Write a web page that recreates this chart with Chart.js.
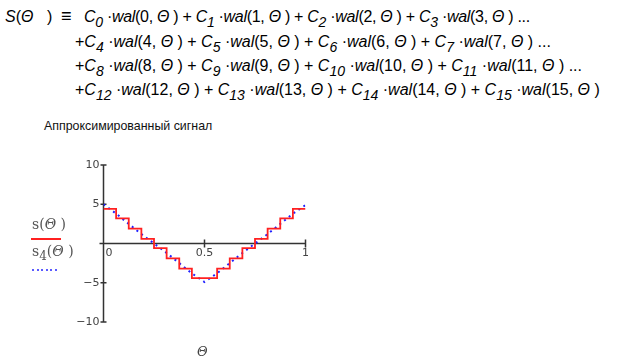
<!DOCTYPE html>
<html>
<head>
<meta charset="utf-8">
<script src="https://cdn.jsdelivr.net/npm/chart.js@4.4.1/dist/chart.umd.min.js"></script>
<style>
  html, body { margin: 0; padding: 0; background: #fff; }
  body { width: 623px; height: 362px; position: relative; overflow: hidden; }
  #plot { position: absolute; left: 0; top: 0; }
  .f { position: absolute; font-family: "Liberation Sans", Arial, sans-serif; font-size: 16px; color: #000; white-space: nowrap; line-height: 18px; }
  .f sub { font-size: 14px; vertical-align: -5px; line-height: 0; }
  .f b { font-weight: bold; }
  .txt { position: absolute; white-space: nowrap; }
  .lg { position: absolute; font-family: "DejaVu Serif", serif; font-size: 14px; color: #555; white-space: nowrap; line-height: 16px; }
  .lg sub { font-size: 12px; vertical-align: -4px; line-height: 0; }
</style>
</head>
<body>
<div class="f" style="left:5px;top:8px"><i>S</i>(<i>Θ</i></div>
<div class="f" style="left:47px;top:8px">)</div>
<div class="f" style="left:61px;top:7px;font-size:18px"><b>≡</b></div>
<div class="f" style="left:84px;top:8px;letter-spacing:-0.3px"><i>C<sub>0</sub></i> ·<i>wal</i>(0, <i>Θ</i> ) + <i>C<sub>1</sub></i> ·<i>wal</i>(1, <i>Θ</i> ) + <i>C<sub>2</sub></i> ·<i>wal</i>(2, <i>Θ</i> ) + <i>C<sub>3</sub></i> ·<i>wal</i>(3, <i>Θ</i> ) ...</div>
<div class="f" style="left:75px;top:33px">+<i>C<sub>4</sub></i> ·<i>wal</i>(4, <i>Θ</i> ) + <i>C<sub>5</sub></i> ·<i>wal</i>(5, <i>Θ</i> ) + <i>C<sub>6</sub></i> ·<i>wal</i>(6, <i>Θ</i> ) + <i>C<sub>7</sub></i> ·<i>wal</i>(7, <i>Θ</i> ) ...</div>
<div class="f" style="left:75px;top:57px">+<i>C<sub>8</sub></i> ·<i>wal</i>(8, <i>Θ</i> ) + <i>C<sub>9</sub></i> ·<i>wal</i>(9, <i>Θ</i> ) + <i>C<sub>10</sub></i> ·<i>wal</i>(10, <i>Θ</i> ) + <i>C<sub>11</sub></i> ·<i>wal</i>(11, <i>Θ</i> ) ...</div>
<div class="f" style="left:75px;top:81px">+<i>C<sub>12</sub></i> ·<i>wal</i>(12, <i>Θ</i> ) + <i>C<sub>13</sub></i> ·<i>wal</i>(13, <i>Θ</i> ) + <i>C<sub>14</sub></i> ·<i>wal</i>(14, <i>Θ</i> ) + <i>C<sub>15</sub></i> ·<i>wal</i>(15, <i>Θ</i> )</div>

<div class="txt" style="left:44px;top:119px;font-family:'Liberation Sans',Arial,sans-serif;font-size:12.4px;color:#111">Аппроксимированный сигнал</div>

<canvas id="plot" width="623" height="362"></canvas>

<div class="lg" style="left:32px;top:216px">s(<i>Θ</i> )</div>
<div style="position:absolute;left:31px;top:238px;width:30px;height:1.5px;background:#ff2020"></div>
<div class="lg" style="left:32px;top:243px">s<sub>4</sub>(<i>Θ</i> )</div>
<div style="position:absolute;left:32px;top:269px;width:26px;height:2px;background:repeating-linear-gradient(to right,#5a5aff 0,#5a5aff 2px,transparent 2px,transparent 4.6px)"></div>
<div class="txt" style="left:197px;top:344px;font-family:'DejaVu Serif',serif;font-style:italic;font-size:13px;color:#444">Θ</div>

<script>
// дискретные отсчёты по оси Θ
const thetaSteps = [0, 0.0625, 0.125, 0.1875, 0.25, 0.3125, 0.375, 0.4375, 0.5,
                    0.5625, 0.625, 0.6875, 0.75, 0.8125, 0.875, 0.9375, 1];
// аппроксимация s(Θ) - ступеньки (последнее значение повторено для Θ = 1)
const sValues = [4.4, 3.2, 1.9, 0.6, -0.6, -1.9, -3.2, -4.4, -4.4,
                 -3.2, -1.9, -0.6, 0.6, 1.9, 3.2, 4.4, 4.4];
// исходный сигнал s4(Θ)
const s4Values = [5, 3.8, 2.5, 1.2, 0, -1.2, -2.5, -3.8, -4.9,
                  -3.8, -2.5, -1.2, 0, 1.2, 2.5, 3.8, 4.9];
const yTicks = [10, 5, -5, -10];
const xTicks = [0.5, 1];

const axesPlugin = {
    id: 'crossAxes',
    beforeDatasetsDraw(chart) {
        const ctx = chart.ctx;
        const xs = chart.scales.x;
        const ys = chart.scales.y;
        const x0 = xs.getPixelForValue(0);
        const y0 = ys.getPixelForValue(0);
        ctx.save();
        ctx.strokeStyle = '#333';
        ctx.lineWidth = 1.5;
        ctx.beginPath();
        ctx.moveTo(x0, ys.getPixelForValue(10));
        ctx.lineTo(x0, ys.getPixelForValue(-10));
        ctx.moveTo(x0 - 4, y0);
        ctx.lineTo(xs.getPixelForValue(1), y0);
        yTicks.forEach(v => {
            const py = ys.getPixelForValue(v);
            ctx.moveTo(x0 - 3, py);
            ctx.lineTo(x0 + 3, py);
        });
        xTicks.forEach(v => {
            const px = xs.getPixelForValue(v);
            ctx.moveTo(px, y0 - 4);
            ctx.lineTo(px, y0 + 4);
        });
        ctx.stroke();

        ctx.fillStyle = '#444';
        ctx.font = '11px "DejaVu Sans", sans-serif';
        ctx.textAlign = 'right';
        ctx.textBaseline = 'middle';
        yTicks.forEach(v => {
            ctx.fillText(String(v).replace('-', '\u2212'), x0 - 4, ys.getPixelForValue(v));
        });
        ctx.textAlign = 'left';
        ctx.fillText('0', x0 + 2, y0 + 10);
        ctx.textAlign = 'center';
        xTicks.forEach(v => {
            ctx.fillText(String(v), xs.getPixelForValue(v), y0 + 10);
        });
        ctx.restore();
    }
};

new Chart(document.getElementById('plot'), {
    type: 'scatter',
    data: {
        datasets: [
            {
                label: 's(Θ)',
                data: thetaSteps.map((t, i) => ({ x: t, y: sValues[i] })),
                showLine: true,
                stepped: 'before',
                borderColor: '#ff2020',
                borderWidth: 1.8,
                pointRadius: 0
            },
            {
                label: 's4(Θ)',
                data: thetaSteps.map((t, i) => ({ x: t, y: s4Values[i] })),
                showLine: true,
                borderColor: '#2020ff',
                borderWidth: 2,
                borderDash: [2, 4],
                pointRadius: 0
            }
        ]
    },
    options: {
        responsive: false,
        animation: false,
        devicePixelRatio: 1,
        layout: { padding: { left: 103.5, right: 317.5, top: 165, bottom: 40 } },
        scales: {
            x: { type: 'linear', min: 0, max: 1, display: false },
            y: { type: 'linear', min: -10, max: 10, display: false }
        },
        plugins: {
            legend: { display: false },
            tooltip: { enabled: false }
        }
    },
    plugins: [axesPlugin]
});
</script>
</body>
</html>
